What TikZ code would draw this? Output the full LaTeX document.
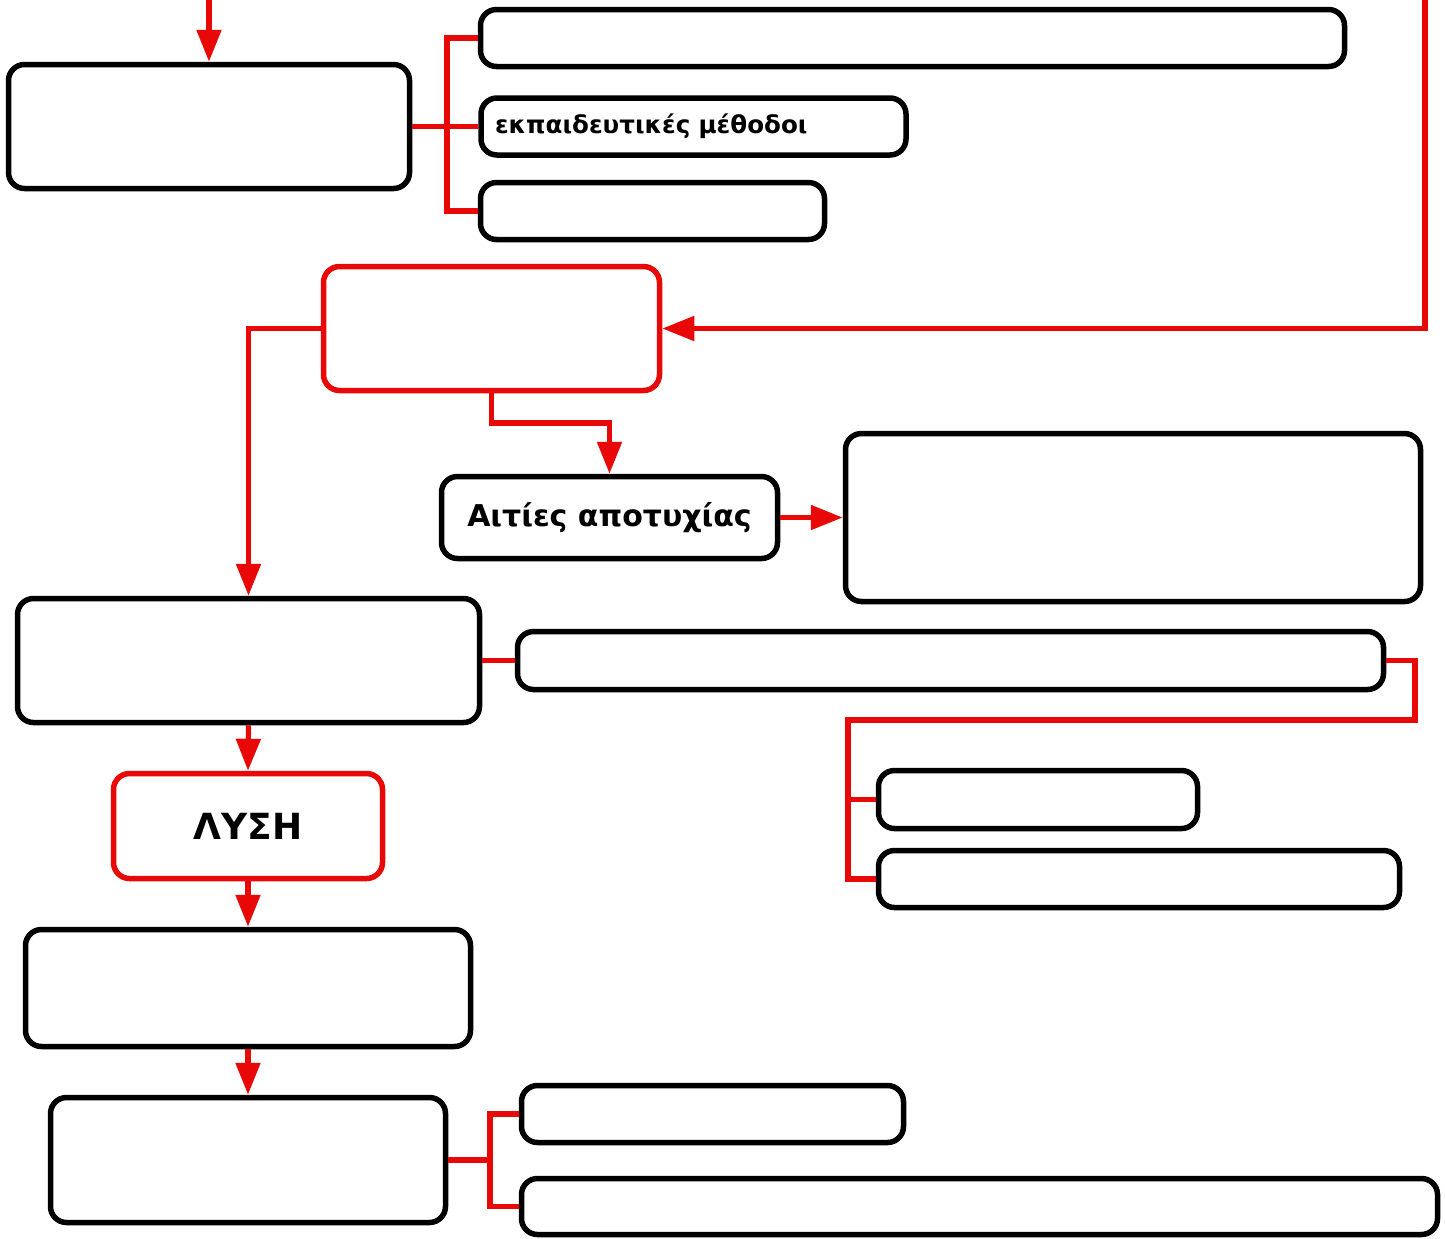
\documentclass[tikz,border=0pt]{standalone}
\usepackage{fontspec}
\setmainfont{DejaVu Sans}
\usetikzlibrary{arrows.meta,calc}
\definecolor{linkred}{RGB}{232,8,8}
\tikzset{
  box/.style={draw=black, line width=2.75pt, rounded corners=8pt, fill=white, inner sep=0pt},
  redbox/.style={box, draw=linkred},
  link/.style={draw=linkred, line width=2.6pt},
  arr/.style={link, -{Triangle[length=16pt,width=12pt]}},
}
\newcommand\mkbox[7]{\node[#6, minimum width={(#4-#2-3)*0.5pt}, minimum height={(#5-#3-3)*0.5pt}] (#1) at ({(#2+#4)/2},{(#3+#5)/2}) {#7};}
\begin{document}
\begin{tikzpicture}[x=0.5pt,y=-0.5pt]
\useasboundingbox (0,0) rectangle (1445,1238);
% boxes
\mkbox{A}{7}{63}{411}{190}{box}{}
\mkbox{B1}{479}{8}{1346}{68}{box}{}
\node[box, minimum height={(60-3)*0.5pt}, text width={(428-3)*0.5pt-14pt}, inner xsep=7pt, align=left, font=\bfseries\fontsize{12.3}{14}\selectfont] (B2) at ({(479+908)/2},126.5) {εκπαιδευτικές μέθοδοι};
\mkbox{B3}{479}{181}{826}{241}{box}{}
\mkbox{C}{322}{265}{661}{392}{redbox}{}
\mkbox{E}{440}{475}{779}{560}{box, font=\bfseries\fontsize{15}{18}\selectfont}{Αιτίες αποτυχίας}
\mkbox{F}{844}{432}{1422}{603}{box}{}
\mkbox{D}{16}{597}{481}{724}{box}{}
\mkbox{G}{516}{630}{1385}{691}{box}{}
\mkbox{H}{877}{769}{1199}{830}{box}{}
\mkbox{I}{877}{849}{1401}{909}{box}{}
\mkbox{L}{112}{772}{384}{880}{redbox, font=\bfseries\fontsize{18}{21}\selectfont}{ΛΥΣΗ}
\mkbox{J}{24}{928}{472}{1048}{box}{}
\mkbox{K}{49}{1096}{447}{1224}{box}{}
\mkbox{K1}{520}{1084}{905}{1144}{box}{}
\mkbox{K2}{520}{1177}{1439}{1236}{box}{}
% coordinates
\coordinate (topA) at (209,-3);
\coordinate (topR) at (1425,-3);
\coordinate (a1) at (447,126.5);
\coordinate (c1) at (491.5,423);
\coordinate (g1) at (1415,720);
\coordinate (g2) at (848,720);
\coordinate (k1) at (490,1160);
% connectors
\draw[arr] (topA) -- (A.north);
\draw[link] (A.east) -- (a1);
\draw[link] (B1.west) -| (a1) |- (B3.west);
\draw[link] (a1) -- (B2.west);
\draw[arr] (topR) |- (C.east);
\draw[arr] (C.west) -| (D.north);
\draw[arr] (C.south) -- (c1) -| (E.north);
\draw[arr] (E.east) -- (F.west);
\draw[link] (D.east) -- (G.west);
\draw[link] (G.east) -| (g1) -- (g2) |- (I.west);
\draw[link] (H.west) -- (H.west -| g2);
\draw[arr] (D.south) -- (L.north);
\draw[arr] (L.south) -- (J.north);
\draw[arr] (J.south) -- (K.north);
\draw[link] (K.east) -- (k1);
\draw[link] (K1.west) -| (k1) |- (K2.west);
\end{tikzpicture}
\end{document}
